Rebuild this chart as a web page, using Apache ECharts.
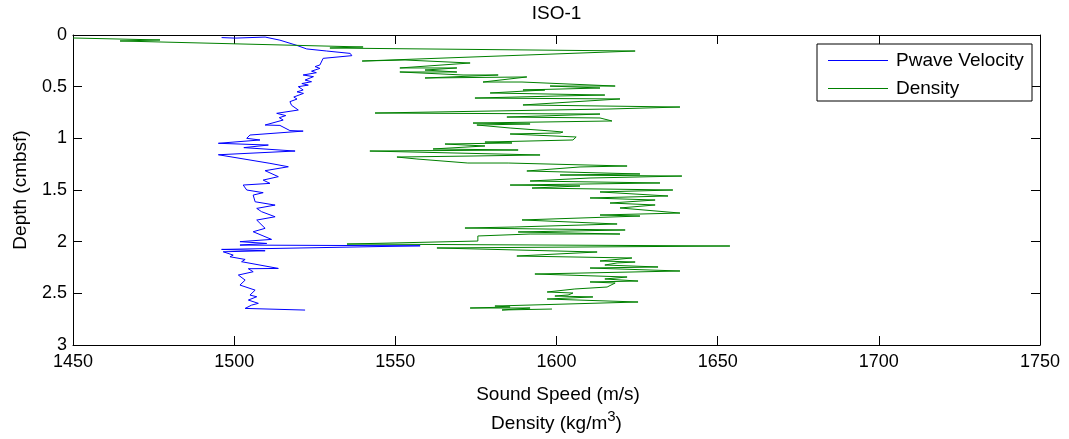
<!DOCTYPE html>
<html><head><meta charset="utf-8">
<script src="https://cdn.jsdelivr.net/npm/echarts@6/dist/echarts.min.js"></script>
<style>html,body{margin:0;padding:0;background:#fff}#c{width:1069px;height:439px}</style>
</head><body><div id="c"></div>
<script>
// ---- data: [value, depth(cmbsf)] ----
const titleText = 'ISO-1';
const xTicks = [1450, 1500, 1550, 1600, 1650, 1700, 1750];
const yTicks = [0, 0.5, 1, 1.5, 2, 2.5, 3];
const seriesNames = ['Pwave Velocity', 'Density'];
const pwaveVelocity = [
[1496.1,0.025],[1500.3,0.03],[1509.6,0.02],[1514.2,0.05],[1519.4,0.10],[1522.5,0.135],[1528.7,0.155],[1536.0,0.178],[1536.5,0.2],[1527.6,0.226],
[1526.6,0.29],[1525.1,0.306],[1526.6,0.323],[1524.0,0.35],[1525.5,0.365],[1521.4,0.387],[1524.6,0.403],[1522.0,0.436],[1524.0,0.452],[1521.0,0.47],
[1523.0,0.485],[1519.9,0.5],[1521.4,0.532],[1519.5,0.55],[1521.5,0.565],[1520.9,0.581],[1518.5,0.60],[1519.5,0.62],[1517.3,0.645],[1517.8,0.68],
[1519.9,0.726],[1513.2,0.758],[1516.0,0.78],[1514.0,0.80],[1515.2,0.823],[1509.6,0.871],[1514.2,0.875],[1517.3,0.925],[1521.4,0.93],[1504.9,0.968],
[1503.9,1.0],[1508.0,1.016],[1495.1,1.048],[1510.6,1.065],[1503.0,1.09],[1518.9,1.123],[1495.1,1.159],[1511.1,1.242],[1516.8,1.275],[1509.6,1.313],
[1513.7,1.371],[1509.0,1.404],[1511.1,1.436],[1502.8,1.452],[1503.9,1.5],[1509.0,1.526],[1505.9,1.549],[1506.5,1.614],[1512.7,1.646],[1507.0,1.678],
[1508.5,1.71],[1512.7,1.759],[1507.0,1.791],[1509.6,1.871],[1505.9,1.904],[1511.6,1.978],[1501.8,2.0],[1510.1,2.017],[1501.8,2.033],[1557.7,2.04],
[1496.1,2.075],[1509.6,2.088],[1496.6,2.098],[1499.7,2.13],[1498.7,2.146],[1503.4,2.172],[1502.3,2.194],[1513.7,2.259],[1504.4,2.262],[1505.9,2.291],
[1501.3,2.323],[1503.4,2.372],[1501.8,2.42],[1506.5,2.469],[1504.9,2.517],[1507.0,2.533],[1504.4,2.565],[1507.5,2.597],[1505.4,2.614],[1503.4,2.646],
[1522.0,2.662]
];
const density = [
[1450.0,0.029],[1477.0,0.048],[1464.6,0.058],[1540.0,0.116],[1529.7,0.126],[1624.4,0.155],[1539.7,0.252],[1553.0,0.242],[1573.2,0.271],[1551.4,0.319],
[1569.1,0.319],[1559.2,0.339],[1569.1,0.358],[1551.4,0.358],[1571.0,0.387],[1581.9,0.387],[1559.2,0.416],[1590.8,0.406],[1577.2,0.455],[1589.3,0.455],
[1618.2,0.494],[1598.0,0.494],[1613.5,0.513],[1589.6,0.532],[1596.4,0.532],[1579.4,0.561],[1615.0,0.581],[1601.1,0.590],[1574.7,0.610],[1619.7,0.619],
[1589.6,0.677],[1638.3,0.697],[1616.6,0.716],[1543.7,0.755],[1613.5,0.765],[1595.2,0.784],[1584.6,0.794],[1613.5,0.803],[1617.2,0.832],[1574.1,0.852],
[1591.8,0.861],[1575.3,0.871],[1585.6,0.9],[1598.3,0.929],[1602.0,0.939],[1601.1,0.948],[1585.6,0.958],[1606.1,0.987],[1605.1,1.016],[1577.8,1.036],
[1586.2,1.045],[1565.4,1.055],[1577.8,1.074],[1561.7,1.103],[1588.1,1.113],[1542.1,1.123],[1594.9,1.161],[1574.1,1.171],[1550.5,1.181],[1556.7,1.2],
[1572.5,1.239],[1585.0,1.239],[1621.9,1.268],[1607.3,1.277],[1590.8,1.316],[1625.9,1.345],[1601.1,1.355],[1638.9,1.365],[1610.4,1.384],[1591.8,1.413],
[1632.1,1.432],[1585.6,1.452],[1607.3,1.461],[1592.4,1.481],[1636.1,1.5],[1613.5,1.519],[1634.6,1.558],[1610.4,1.577],[1630.6,1.597],[1616.6,1.626],
[1630.6,1.645],[1619.7,1.674],[1638.3,1.723],[1613.5,1.742],[1625.9,1.752],[1589.3,1.790],[1618.8,1.829],[1587.1,1.858],[1571.6,1.868],[1621.3,1.887],
[1588.1,1.906],[1619.7,1.926],[1591.8,1.926],[1575.6,1.945],[1575.6,1.994],[1535.0,2.023],[1653.8,2.042],[1562.9,2.061],[1612.6,2.100],[1587.7,2.139],
[1623.4,2.158],[1613.5,2.187],[1624.4,2.197],[1618.8,2.206],[1615.0,2.226],[1631.5,2.245],[1610.4,2.255],[1638.3,2.284],[1593.3,2.313],[1621.9,2.342],
[1615.0,2.361],[1625.3,2.381],[1610.4,2.390],[1618.2,2.4],[1615.7,2.439],[1605.7,2.458],[1597.1,2.487],[1605.1,2.497],[1603.6,2.516],[1599.5,2.526],
[1611.3,2.535],[1597.1,2.555],[1625.3,2.584],[1580.9,2.623],[1585.6,2.632],[1573.2,2.642],[1591.8,2.642],[1583.1,2.661],[1598.6,2.652]
];
const colors = ['#0000ff', '#008000'];

const FONT = '"Liberation Sans", Arial, sans-serif';
const FS = 18;
const FT = 19;
const chart = echarts.init(document.getElementById('c'), null, {renderer: 'canvas'});
const axisCommon = {
  type: 'value',
  axisLine: {show: true, onZero: false, lineStyle: {color: '#000', width: 1}},
  axisTick: {show: true, inside: true, length: 9, lineStyle: {color: '#000'}},
  splitLine: {show: false}
};
chart.setOption({
  animation: false,
  backgroundColor: '#fff',
  grid: {left: 73, right: 29, top: 35, bottom: 94, containLabel: false},
  xAxis: [
    Object.assign({}, axisCommon, {position: 'bottom', min: xTicks[0], max: xTicks[xTicks.length-1], interval: 50,
      axisLabel: {show: true, margin: 8, color: '#000', fontSize: FS, fontFamily: FONT, formatter: v => String(v)}}),
    Object.assign({}, axisCommon, {position: 'top', min: xTicks[0], max: xTicks[xTicks.length-1], interval: 50,
      axisLabel: {show: false}})
  ],
  yAxis: [
    Object.assign({}, axisCommon, {position: 'left', inverse: true, min: yTicks[0], max: yTicks[yTicks.length-1], interval: 0.5,
      axisLabel: {show: true, margin: 6, color: '#000', fontSize: FS, fontFamily: FONT, formatter: v => String(v)}}),
    Object.assign({}, axisCommon, {position: 'right', inverse: true, min: yTicks[0], max: yTicks[yTicks.length-1], interval: 0.5,
      axisLabel: {show: false}})
  ],
  legend: {
    orient: 'vertical', left: 828, top: 51, padding: 0, itemGap: 9, itemWidth: 60, itemHeight: 1,
    icon: 'rect',
    z: 6,
    data: seriesNames,
    textStyle: {color: '#000', fontSize: FT, fontFamily: FONT, padding: [0,0,0,3], lineHeight: 18}
  },
  graphic: [
    {type: 'rect', z: 5, shape: {x: 817, y: 44, width: 215, height: 57}, style: {fill: '#fff', stroke: '#000', lineWidth: 1}},
    {type: 'text', z: 5, style: {x: 556.5, y: 14, text: titleText, align: 'center', verticalAlign: 'middle', fill: '#000', font: FT + 'px ' + FONT}},
    {type: 'text', z: 5, style: {x: 558, y: 395, text: 'Sound Speed (m/s)', align: 'center', verticalAlign: 'middle', fill: '#000', font: FT + 'px ' + FONT}},
    {type: 'text', z: 5, style: {x: 556.5, y: 421, text: '{a|Density (kg/m}{s|3}{a|)}', align: 'center', verticalAlign: 'middle', fill: '#000',
      rich: {a: {fontSize: FT, fontFamily: FONT, color: '#000', lineHeight: 24, verticalAlign: 'bottom'},
             s: {fontSize: 15, fontFamily: FONT, color: '#000', lineHeight: 24, verticalAlign: 'top', padding: [0, 0, 11, 0]}}}},
    {type: 'text', z: 5, x: 21, y: 190, rotation: Math.PI / 2, style: {x: 0, y: 0, text: 'Depth (cmbsf)', align: 'center', verticalAlign: 'middle', fill: '#000', font: FT + 'px ' + FONT}}
  ],
  series: [
    {name: seriesNames[0], type: 'line', data: pwaveVelocity, symbol: 'none', showSymbol: false, xAxisIndex: 0, yAxisIndex: 0,
      lineStyle: {color: colors[0], width: 1}, itemStyle: {color: colors[0]}, z: 2},
    {name: seriesNames[1], type: 'line', data: density, symbol: 'none', showSymbol: false, xAxisIndex: 0, yAxisIndex: 0,
      lineStyle: {color: colors[1], width: 1}, itemStyle: {color: colors[1]}, z: 2}
  ]
});
</script></body></html>
